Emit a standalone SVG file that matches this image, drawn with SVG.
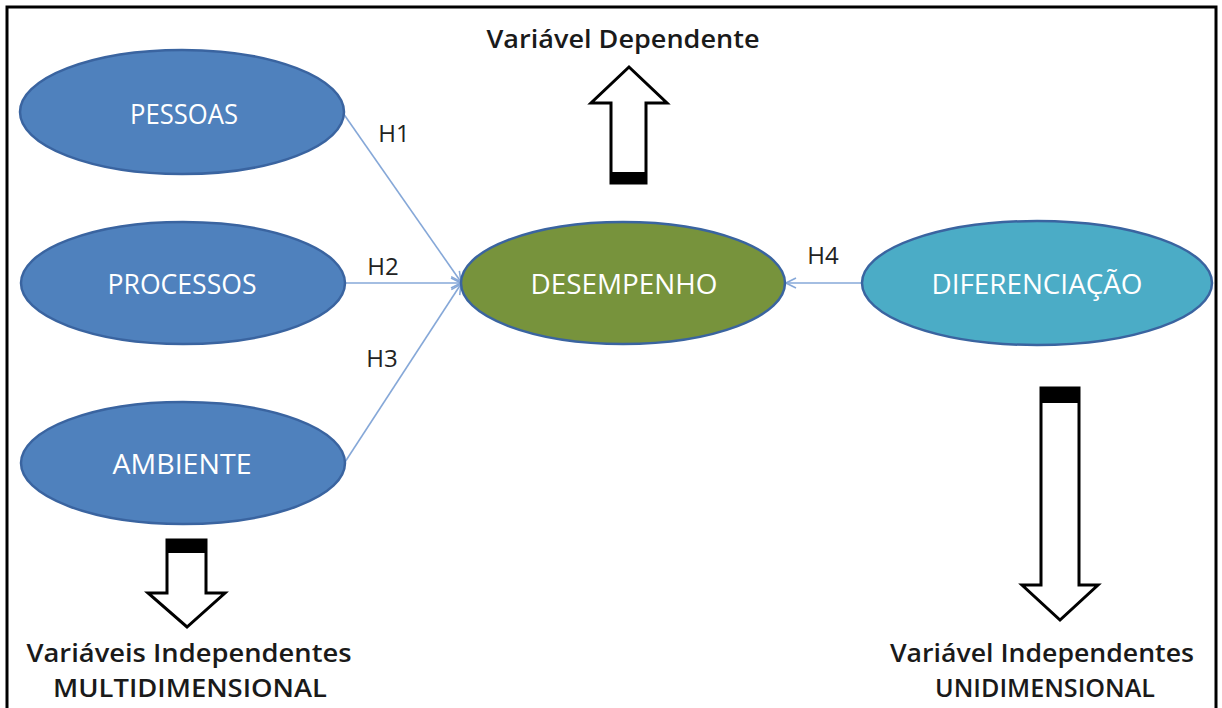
<svg xmlns="http://www.w3.org/2000/svg" width="1222" height="708" viewBox="0 0 1222 708">
<defs>
<style>
.node{stroke:#3A64A0;stroke-width:2.5}
.nt{font-family:"Open Sans","Liberation Sans",sans-serif;font-size:27px;fill:#ffffff;text-anchor:middle;dominant-baseline:central}
.h{font-family:"Open Sans","Liberation Sans",sans-serif;font-size:24px;fill:#222222;text-anchor:middle}
.lbl{font-family:"Open Sans","Liberation Sans",sans-serif;font-size:26px;font-weight:600;fill:#1a1a1a;text-anchor:middle}
.conn{stroke:#86A8D8;stroke-width:1.6;fill:none}
.blk{fill:#ffffff;stroke:#000000;stroke-width:3;stroke-linejoin:miter}
</style>
<marker id="arr" viewBox="0 0 12 12" refX="11" refY="6" markerWidth="12" markerHeight="12" markerUnits="userSpaceOnUse" orient="auto">
<path d="M1,1 L11,6 L1,11" fill="none" stroke="#86A8D8" stroke-width="1.6"/>
</marker>
</defs>
<rect x="0" y="0" width="1222" height="708" fill="#ffffff"/>
<rect x="7" y="7" width="1209" height="730" fill="none" stroke="#000000" stroke-width="3"/>

<g id="connectors">
<line class="conn" x1="343" y1="113" x2="461" y2="282" marker-end="url(#arr)"/>
<line class="conn" x1="345" y1="283" x2="461" y2="283" marker-end="url(#arr)"/>
<line class="conn" x1="345" y1="462" x2="461" y2="284" marker-end="url(#arr)"/>
<line class="conn" x1="862" y1="283" x2="786" y2="283" marker-end="url(#arr)"/>
<text class="h" x="394" y="142">H1</text>
<text class="h" x="383" y="275">H2</text>
<text class="h" x="382" y="367">H3</text>
<text class="h" x="823" y="264">H4</text>
</g>

<g id="pessoas">
<ellipse class="node" cx="182" cy="112" rx="162" ry="62" fill="#4F81BD"/>
<text class="nt" x="184" y="113" textLength="108" lengthAdjust="spacingAndGlyphs">PESSOAS</text>
</g>
<g id="processos">
<ellipse class="node" cx="183" cy="283" rx="162" ry="61" fill="#4F81BD"/>
<text class="nt" x="182" y="283" textLength="149" lengthAdjust="spacingAndGlyphs">PROCESSOS</text>
</g>
<g id="ambiente">
<ellipse class="node" cx="183" cy="463" rx="162" ry="61" fill="#4F81BD"/>
<text class="nt" x="182" y="463" textLength="139" lengthAdjust="spacingAndGlyphs">AMBIENTE</text>
</g>
<g id="desempenho">
<ellipse class="node" cx="623" cy="283" rx="162" ry="61" fill="#77933C"/>
<text class="nt" x="624" y="283" textLength="187" lengthAdjust="spacingAndGlyphs">DESEMPENHO</text>
</g>
<g id="diferenciacao">
<ellipse class="node" cx="1037" cy="283" rx="175" ry="62" fill="#4BACC6"/>
<text class="nt" x="1037" y="283" textLength="211" lengthAdjust="spacingAndGlyphs">DIFERENCIAÇÃO</text>
</g>

<g id="arrow-dependente">
<path class="blk" d="M629,67 L667,103 L646,103 L646,183 L611,183 L611,103 L591,103 Z"/>
<rect x="611" y="172" width="35" height="11" fill="#000000"/>
<text class="lbl" x="623" y="48" textLength="273" lengthAdjust="spacingAndGlyphs">Variável Dependente</text>
</g>
<g id="arrow-multi">
<path class="blk" d="M167,540 L206,540 L206,593 L225,593 L187,627 L148,593 L167,593 Z"/>
<rect x="167" y="540" width="39" height="13" fill="#000000"/>
<text class="lbl" x="189" y="662" textLength="325" lengthAdjust="spacingAndGlyphs">Variáveis Independentes</text>
<text class="lbl" x="190" y="697" textLength="274" lengthAdjust="spacingAndGlyphs">MULTIDIMENSIONAL</text>
</g>
<g id="arrow-uni">
<path class="blk" d="M1041,388 L1079,388 L1079,585 L1098,585 L1060,620 L1022,585 L1041,585 Z"/>
<rect x="1041" y="388" width="38" height="15" fill="#000000"/>
<text class="lbl" x="1042" y="662" textLength="304" lengthAdjust="spacingAndGlyphs">Variável Independentes</text>
<text class="lbl" x="1045" y="697" textLength="220" lengthAdjust="spacingAndGlyphs">UNIDIMENSIONAL</text>
</g>
</svg>
